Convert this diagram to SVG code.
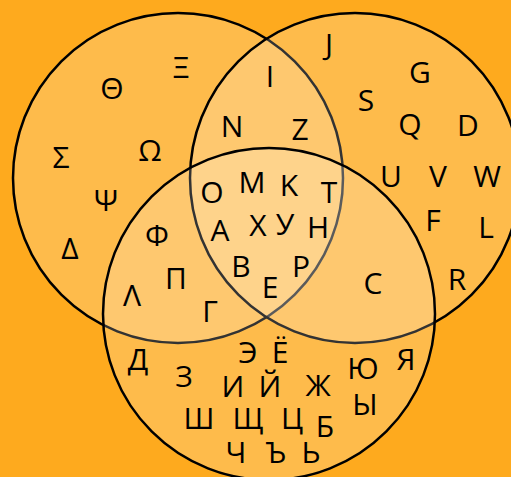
<svg xmlns="http://www.w3.org/2000/svg" width="511" height="477" viewBox="0 0 511 477">
<style>
.c{fill:#ffffff;fill-opacity:0.2;stroke:#000;stroke-width:2.5}
text{font-family:"Open Sans","Noto Sans",sans-serif;font-size:30px;fill:#000;text-anchor:middle}
</style>
<rect width="511" height="477" fill="#FEAA1E"/>
<g id="greek"><circle class="c" cx="178" cy="178" r="165"/></g>
<g id="latin"><circle class="c" cx="355" cy="178" r="165"/></g>
<g id="cyrillic"><circle class="c" cx="269" cy="314" r="166"/></g>
<g id="labels">
<text x="112" y="99">Θ</text>
<text x="181" y="78">Ξ</text>
<text x="61" y="168">Σ</text>
<text x="150" y="161">Ω</text>
<text x="106" y="211">Ψ</text>
<text x="70" y="259">Δ</text>
<text x="270" y="87">I</text>
<text x="232" y="137">N</text>
<text x="300" y="140">Z</text>
<text x="329" y="55">J</text>
<text x="420" y="83">G</text>
<text x="366" y="111">S</text>
<text x="410" y="135">Q</text>
<text x="468" y="136">D</text>
<text x="391" y="187">U</text>
<text x="438" y="187">V</text>
<text x="487" y="187">W</text>
<text x="433" y="231">F</text>
<text x="486" y="238">L</text>
<text x="457" y="290">R</text>
<text x="373" y="294">C</text>
<text x="157" y="246">Φ</text>
<text x="176" y="289">Π</text>
<text x="132" y="306">Λ</text>
<text x="210" y="322">Γ</text>
<text x="212" y="203">O</text>
<text x="252" y="193">M</text>
<text x="289" y="196">K</text>
<text x="329" y="203">T</text>
<text x="220" y="241">A</text>
<text x="258" y="236">X</text>
<text x="285" y="235">У</text>
<text x="318" y="238">H</text>
<text x="241" y="277">B</text>
<text x="301" y="277">P</text>
<text x="270" y="298">E</text>
<text x="138" y="370">Д</text>
<text x="184" y="387">З</text>
<text x="248" y="363">Э</text>
<text x="280" y="363">Ё</text>
<text x="233" y="397">И</text>
<text x="270" y="397">Й</text>
<text x="318" y="396">Ж</text>
<text x="363" y="379">Ю</text>
<text x="406" y="370">Я</text>
<text x="365" y="415">Ы</text>
<text x="199" y="429">Ш</text>
<text x="248" y="429">Щ</text>
<text x="292" y="429">Ц</text>
<text x="325" y="437">Б</text>
<text x="236" y="463">Ч</text>
<text x="276" y="463">Ъ</text>
<text x="311" y="463">Ь</text>
</g>
</svg>
